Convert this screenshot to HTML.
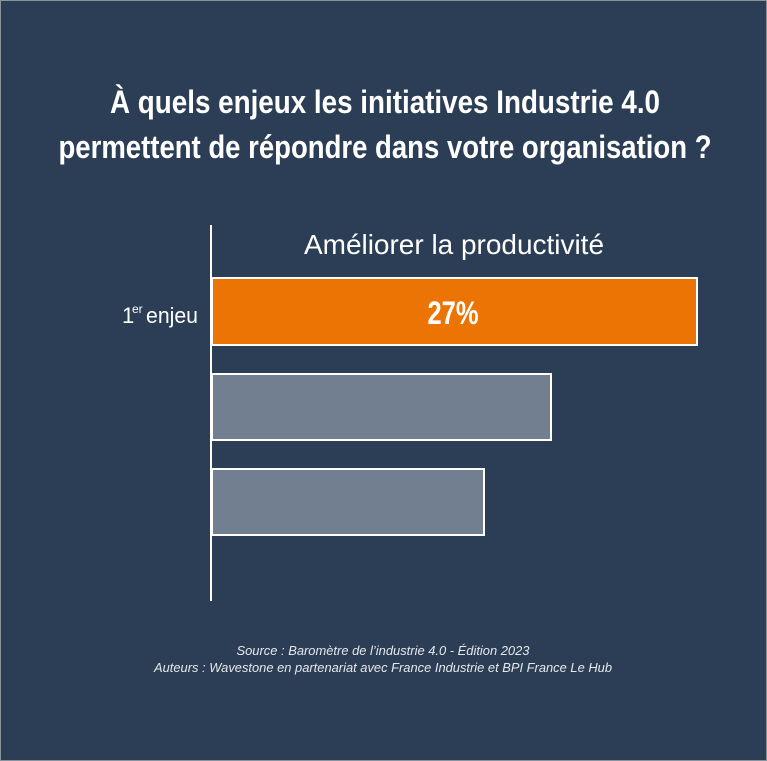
<!DOCTYPE html>
<html><head><meta charset="utf-8"><style>
html,body{margin:0;padding:0;background:#2c3e55}
svg{display:block}
</style></head><body>
<svg width="767" height="761" viewBox="0 0 767 761" xmlns="http://www.w3.org/2000/svg" font-family="Liberation Sans, sans-serif">
<rect x="0.5" y="0.5" width="766" height="760" fill="#2c3e55" stroke="#8a929c" stroke-width="1"/>
<text x="385" y="113" fill="#fff" font-weight="bold" font-size="32" text-anchor="middle" textLength="550" lengthAdjust="spacingAndGlyphs">À quels enjeux les initiatives Industrie 4.0</text>
<text x="385" y="158" fill="#fff" font-weight="bold" font-size="32" text-anchor="middle" textLength="653" lengthAdjust="spacingAndGlyphs">permettent de répondre dans votre organisation ?</text>
<text x="454" y="254" fill="#fff" font-size="28" text-anchor="middle" textLength="300" lengthAdjust="spacingAndGlyphs">Améliorer la productivité</text>
<line x1="211" y1="225" x2="211" y2="601" stroke="#fff" stroke-width="2"/>
<rect x="212" y="278" width="485" height="67" fill="#ec7404" stroke="#fff" stroke-width="2"/>
<text x="453" y="324" fill="#fff" font-weight="bold" font-size="32" text-anchor="middle" textLength="51" lengthAdjust="spacingAndGlyphs">27%</text>
<rect x="212" y="374" width="339" height="66" fill="#717f90" stroke="#fff" stroke-width="2"/>
<rect x="212" y="469" width="272" height="66" fill="#717f90" stroke="#fff" stroke-width="2"/>
<text x="122" y="323" fill="#fff" font-size="22">1</text>
<text x="132" y="313" fill="#fff" font-size="12">er</text>
<text x="146" y="323" fill="#fff" font-size="22" textLength="52" lengthAdjust="spacingAndGlyphs">enjeu</text>
<text x="383" y="655" fill="#e6e8eb" font-size="13" font-style="italic" text-anchor="middle" textLength="293" lengthAdjust="spacingAndGlyphs">Source : Baromètre de l’industrie 4.0 - Édition 2023</text>
<text x="383" y="672" fill="#e6e8eb" font-size="13" font-style="italic" text-anchor="middle" textLength="458" lengthAdjust="spacingAndGlyphs">Auteurs : Wavestone en partenariat avec France Industrie et BPI France Le Hub</text>
</svg>
</body></html>
